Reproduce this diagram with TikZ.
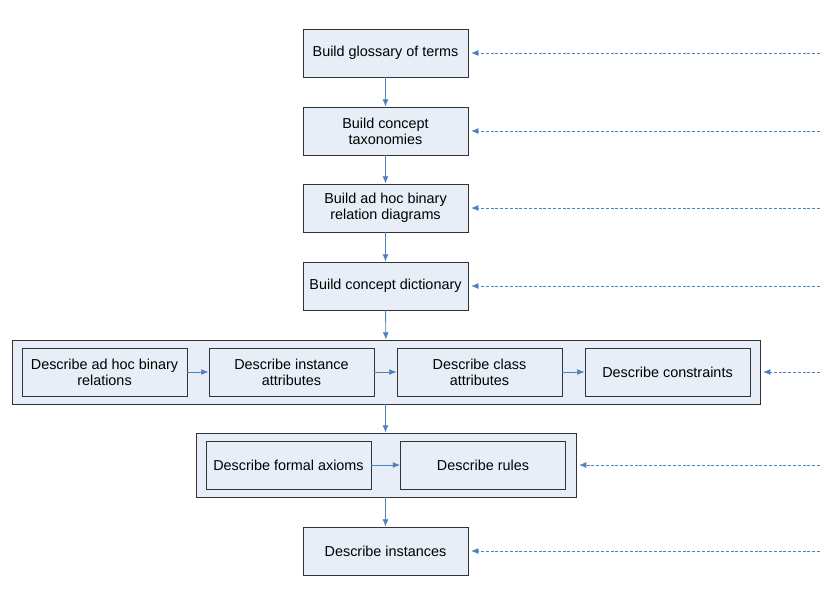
\documentclass[tikz,border=0pt]{standalone}
\usepackage{fontspec}
\setmainfont{Liberation Sans}
\usepackage{xcolor}
\usetikzlibrary{arrows.meta, positioning}

\definecolor{boxfill}{RGB}{232,238,247}
\definecolor{flowblue}{RGB}{79,129,189}

\tikzset{
    task/.style={draw=black!80, rectangle, fill=boxfill, line width=0.6pt, minimum width=123.75pt, minimum height=36pt, align=center, inner sep=1pt, font=\fontsize{10.8}{12}\selectfont},
    group/.style={draw=black!80, rectangle, fill=boxfill, line width=0.6pt, minimum height=48pt},
    flow/.style={-{Latex[length=5.5pt,width=4.5pt]}, flowblue, line width=0.7pt},
    feedback/.style={-{Latex[length=5.5pt,width=4.5pt]}, flowblue, line width=0.6pt, dash pattern=on 2.2pt off 1.4pt}
}

\begin{document}
\begin{tikzpicture}[x=0.75pt, y=-0.75pt]
    \useasboundingbox (0,0) rectangle (820,590);

    % Main column
    \node[task] (glossary) at (385.5,53) {Build glossary of terms};
    \node[task] (taxonomy) at (385.5,131) {Build concept\\taxonomies};
    \node[task] (binrel) at (385.5,208) {Build ad hoc binary\\relation diagrams};
    \node[task] (dictionary) at (385.5,286) {Build concept dictionary};

    % Group of describe tasks
    \node[group, minimum width=561pt] (describegroup) at (386,372) {};
    \node[task] (adhoc) at (104.5,372) {Describe ad hoc binary\\relations};
    \node[task] (instattr) at (291.5,372) {Describe instance\\attributes};
    \node[task] (classattr) at (479.5,372) {Describe class\\attributes};
    \node[task] (constraints) at (667.5,372) {Describe constraints};

    % Group of axioms and rules
    \node[group, minimum width=285pt] (axiomgroup) at (386,465) {};
    \node[task] (axioms) at (288.5,465) {Describe formal axioms};
    \node[task] (rules) at (483,465) {Describe rules};

    % Last task
    \node[task] (instances) at (385.5,551) {Describe instances};

    % Arrows down
    \draw[flow] (glossary) -- (taxonomy);
    \draw[flow] (taxonomy) -- (binrel);
    \draw[flow] (binrel) -- (dictionary);
    \draw[flow] (dictionary) -- (describegroup);
    \draw[flow] (describegroup.south -| dictionary) -- (axiomgroup.north -| dictionary);
    \draw[flow] (axiomgroup.south -| dictionary) -- (instances);

    % Arrows within groups
    \draw[flow] (adhoc) -- (instattr);
    \draw[flow] (instattr) -- (classattr);
    \draw[flow] (classattr) -- (constraints);
    \draw[flow] (axioms) -- (rules);

    % Dashed arrows from the right
    \coordinate (fb1) at (820,53);
    \coordinate (fb2) at (820,131);
    \coordinate (fb3) at (820,208);
    \coordinate (fb4) at (820,286);
    \coordinate (fb5) at (820,372);
    \coordinate (fb6) at (820,465);
    \coordinate (fb7) at (820,551);
    \draw[feedback] (fb1) -- ([xshift=2pt]glossary.east);
    \draw[feedback] (fb2) -- ([xshift=2pt]taxonomy.east);
    \draw[feedback] (fb3) -- ([xshift=2pt]binrel.east);
    \draw[feedback] (fb4) -- ([xshift=2pt]dictionary.east);
    \draw[feedback] (fb5) -- ([xshift=2pt]describegroup.east);
    \draw[feedback] (fb6) -- ([xshift=2pt]axiomgroup.east);
    \draw[feedback] (fb7) -- ([xshift=2pt]instances.east);
\end{tikzpicture}
\end{document}
